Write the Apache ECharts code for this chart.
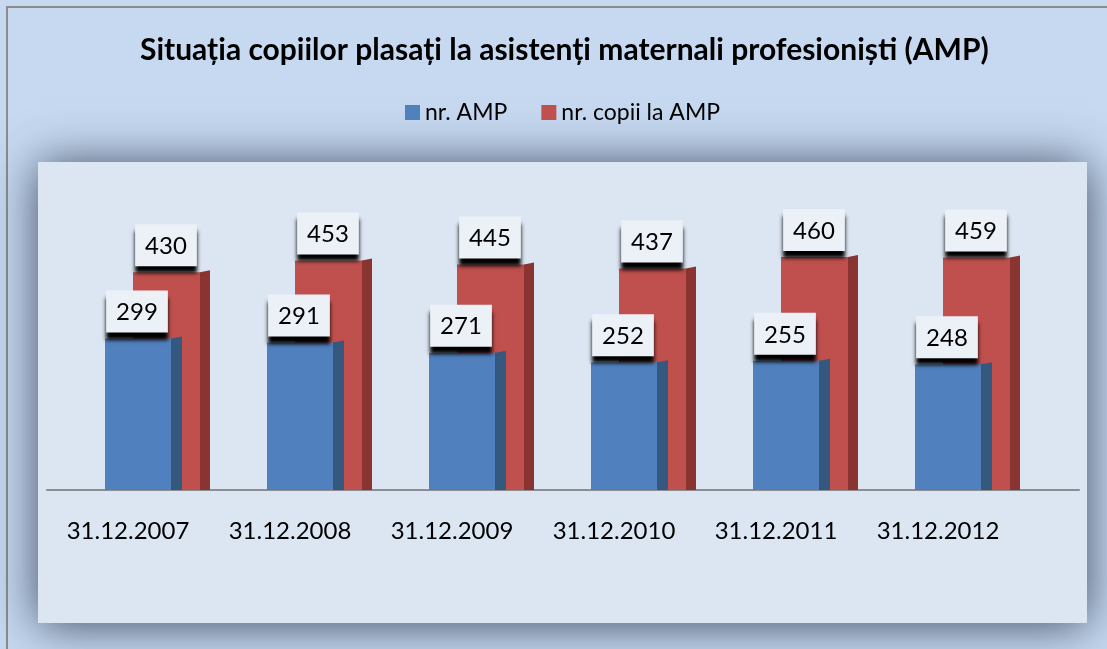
<!DOCTYPE html>
<html><head><meta charset="utf-8">
<script src="https://cdn.jsdelivr.net/npm/echarts@6/dist/echarts.min.js"></script>
<style>html,body{margin:0;padding:0;background:#c6d9f1;overflow:hidden;width:1107px;height:649px}#c{width:1107px;height:649px}</style>
</head><body><div id="c"></div>
<script>
const categories = ['31.12.2007','31.12.2008','31.12.2009','31.12.2010','31.12.2011','31.12.2012'];
const nrAMP = [299, 291, 271, 252, 255, 248];
const nrCopii = [430, 453, 445, 437, 460, 459];
const seriesNames = ['nr. AMP', 'nr. copii la AMP'];
const titleText = 'Situația copiilor plasați la asistenți maternali profesioniști (AMP)';

const FONT = 'Lato';
const chart = echarts.init(document.getElementById('c'), null, {renderer: 'canvas'});

function makeRender(frontL, frontW, sideW, front, side) {
  return function (params, api) {
    const i = api.value(0), v = api.value(1);
    const b = api.coord([i, 0]);
    const t = api.coord([i, v]);
    const c = b[0];
    const x0 = c + frontL, x1 = x0 + frontW, x2 = x1 + sideW;
    return {
      type: 'group',
      children: [
        {type: 'rect', shape: {x: x0, y: t[1], width: frontW, height: b[1] - t[1]}, style: {fill: front}},
        {type: 'polygon', shape: {points: [[x1, t[1]], [x2, t[1] - 2], [x2, b[1]], [x1, b[1]]]}, style: {fill: side}}
      ]
    };
  };
}

function labelStyle(dx) {
  return {
    show: true, position: 'top', distance: 6, offset: [dx, 0], opacity: 1,
    color: '#000', fontFamily: FONT, fontSize: 24, lineHeight: 28,
    backgroundColor: '#ecf1f8', padding: [8, 10, 6, 10],
    shadowColor: 'rgba(0,0,0,1)', shadowBlur: 4, shadowOffsetY: 7,
    formatter: p => p.value[1]
  };
}

const option = {
  backgroundColor: '#c6d9f1',
  animation: false,
  graphic: [
    {type: 'polyline', z: -20, shape: {points: [[7, 649], [7, 7], [1107, 7]]},
     style: {fill: null, stroke: '#8c8c8c', lineWidth: 2}}
  ],
  title: {
    text: titleText, left: 135, top: 30,
    textStyle: {fontFamily: FONT, fontWeight: 'bold', fontSize: 30, color: '#000'}
  },
  legend: {
    data: seriesNames, left: 400, top: 96, icon: 'rect', itemWidth: 15, itemHeight: 15, itemGap: 34,
    textStyle: {fontFamily: FONT, fontSize: 23, color: '#000'}
  },
  grid: [
    {left: 76, width: 972, top: 186, height: 304},
    {left: 47, width: 1032, top: 186, height: 304},
    {show: true, left: 38, top: 162, width: 1049, height: 461, z: -5, backgroundColor: '#dce6f2', borderWidth: 0,
     shadowBlur: 45, shadowColor: 'rgba(40,50,70,0.85)', shadowOffsetY: 2}
  ],
  xAxis: [
    {type: 'category', gridIndex: 0, data: categories, boundaryGap: true,
     axisLine: {show: false}, axisTick: {show: false},
     axisLabel: {margin: 29, fontFamily: FONT, fontSize: 24, color: '#000', padding: [0, 58, 0, 0]}},
    {type: 'category', gridIndex: 1, data: categories, z: 1,
     axisLine: {show: true, lineStyle: {color: '#8a8d91', width: 2}}, axisTick: {show: false}, axisLabel: {show: false}},
    {type: 'category', gridIndex: 2, data: categories, show: false}
  ],
  yAxis: [
    {type: 'value', gridIndex: 0, min: 0, max: 600, show: false, splitLine: {show: false}},
    {type: 'value', gridIndex: 1, min: 0, max: 600, show: false, splitLine: {show: false}},
    {type: 'value', gridIndex: 2, min: 0, max: 600, show: false, splitLine: {show: false}}
  ],
  series: [
    {name: seriesNames[1], type: 'custom', xAxisIndex: 0, yAxisIndex: 0, z: 2, color: '#c0504d',
     renderItem: makeRender(-24, 67, 10, '#c0504d', '#8a3431'),
     encode: {x: 0, y: 1}, data: nrCopii.map((v, i) => [i, v])},
    {name: seriesNames[0], type: 'custom', xAxisIndex: 0, yAxisIndex: 0, z: 3, color: '#4f81bd',
     renderItem: makeRender(-52, 66, 11, '#5081be', '#35587f'),
     encode: {x: 0, y: 1}, data: nrAMP.map((v, i) => [i, v])},
    {type: 'scatter', xAxisIndex: 0, yAxisIndex: 0, z: 5, symbolSize: 0, silent: true,
     itemStyle: {opacity: 1}, label: labelStyle(9), data: nrCopii.map((v, i) => [i, v])},
    {type: 'scatter', xAxisIndex: 0, yAxisIndex: 0, z: 6, symbolSize: 0, silent: true,
     itemStyle: {opacity: 1}, label: labelStyle(-20), data: nrAMP.map((v, i) => [i, v])}
  ]
};
chart.setOption(option);
</script></body></html>
